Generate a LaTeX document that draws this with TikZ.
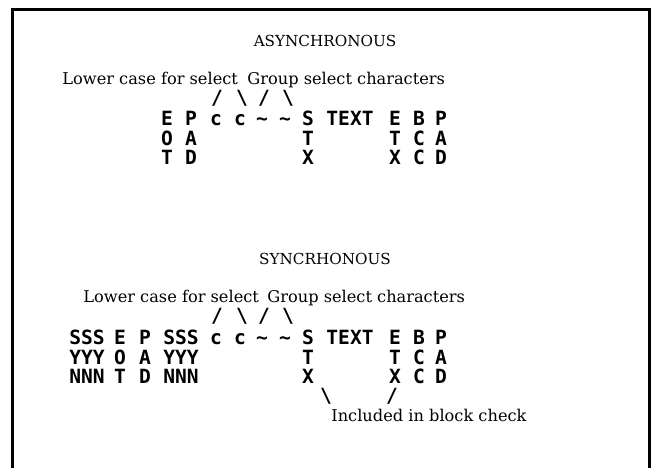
\documentclass[tikz,border=0pt]{standalone}
\usepackage{fontspec}
\setmainfont{DejaVu Serif}
\newfontfamily\ttyfont{DejaVu Sans Mono}

\tikzset{
  heading/.style={font=\fontsize{7.6}{9}\selectfont,inner sep=0pt,anchor=base},
  remark/.style={font=\fontsize{8.1}{10}\selectfont,inner sep=0pt,anchor=base west},
  tty/.style={font=\ttyfont\bfseries\fontsize{9.8}{9.75}\selectfont,align=center,
    inner sep=0pt,anchor=north,execute at begin node={\vphantom{E}}},
  tick/.style={font=\ttyfont\bfseries\fontsize{9.8}{9.75}\selectfont,inner sep=0pt},
  frame/.style={line width=1.5pt}
}

\begin{document}
\begin{tikzpicture}[x=0.5pt,y=-0.5pt]
  \useasboundingbox (0,0) rectangle (653,468);
  \draw[frame] (12,468) -- (12,9) -- (649,9) -- (649,468);

  % asynchronous
  \node[heading] (at) at (325,46) {ASYNCHRONOUS};
  \node[remark] (al) at (62,84) {Lower case for select};
  \node[remark] (ag) at (247,84) {Group select characters};
  \node[tick] (as1) at (217,98) {/};
  \node[tick] (as2) at (242,98) {\textbackslash};
  \node[tick] (as3) at (264,98) {/};
  \node[tick] (as4) at (288,98) {\textbackslash};
  \node[tty] (aeot) at (167,111) {E\\O\\T};
  \node[tty] (asoh) at (191,111) {P\\A\\D};
  \node[tty] (ac1) at (216,111) {c};
  \node[tty] (ac2) at (240,111) {c};
  \node[tty] (ag1) at (262,111) {\textasciitilde};
  \node[tty] (ag2) at (285,111) {\textasciitilde};
  \node[tty] (astx) at (308,111) {S\\T\\X};
  \node[tty] (atxt) at (350,111) {TEXT};
  \node[tty] (aetx) at (395,111) {E\\T\\X};
  \node[tty] (abcc) at (419,111) {B\\C\\C};
  \node[tty] (apad) at (441,111) {P\\A\\D};

  % synchronous
  \node[heading] (st) at (325,264) {SYNCRHONOUS};
  \node[remark] (sl) at (83,302) {Lower case for select};
  \node[remark] (sg) at (267,302) {Group select characters};
  \node[tick] (ss1) at (217,316) {/};
  \node[tick] (ss2) at (242,316) {\textbackslash};
  \node[tick] (ss3) at (264,316) {/};
  \node[tick] (ss4) at (288,316) {\textbackslash};
  \node[tty] (ssyn1) at (87,330) {SSS\\YYY\\NNN};
  \node[tty] (seot) at (120,330) {E\\O\\T};
  \node[tty] (spad1) at (145,330) {P\\A\\D};
  \node[tty] (ssyn2) at (181,330) {SSS\\YYY\\NNN};
  \node[tty] (sc1) at (216,330) {c};
  \node[tty] (sc2) at (240,330) {c};
  \node[tty] (sg1) at (262,330) {\textasciitilde};
  \node[tty] (sg2) at (285,330) {\textasciitilde};
  \node[tty] (sstx) at (308,330) {S\\T\\X};
  \node[tty] (stxt) at (350,330) {TEXT};
  \node[tty] (setx) at (395,330) {E\\T\\X};
  \node[tty] (sbcc) at (419,330) {B\\C\\C};
  \node[tty] (spad2) at (441,330) {P\\A\\D};
  \node[tick] (sb1) at (326,396) {\textbackslash};
  \node[tick] (sb2) at (392,396) {/};
  \node[remark] (sbc) at (331,421) {Included in block check};
\end{tikzpicture}
\end{document}
